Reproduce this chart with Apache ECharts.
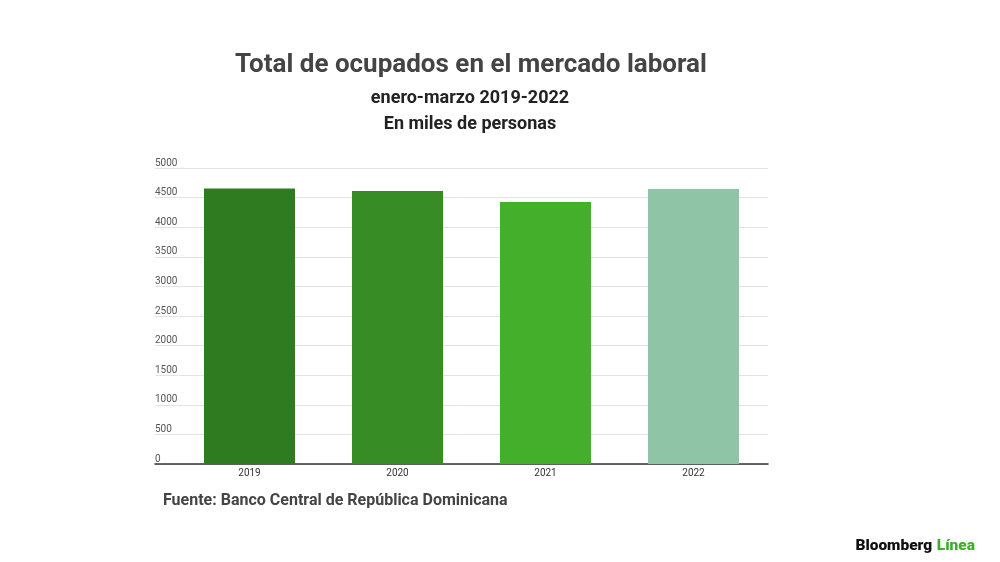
<!DOCTYPE html>
<html>
<head>
<meta charset="utf-8">
<title>Total de ocupados en el mercado laboral</title>
<script src="https://cdn.jsdelivr.net/npm/echarts@6/dist/echarts.min.js"></script>
<style>
    html, body { margin: 0; padding: 0; background: #ffffff; }
    #chart { width: 1000px; height: 562px; }
</style>
</head>
<body>
<div id="chart"></div>
<script>
// datos (miles de personas, enero-marzo)
var years = ['2019', '2020', '2021', '2022'];
var ocupados = [4655, 4611, 4426, 4645];
var barColors = ['#2f7b20', '#388c25', '#43af2b', '#8fc4a7'];
var yTicks = [0, 500, 1000, 1500, 2000, 2500, 3000, 3500, 4000, 4500, 5000];

var myChart = echarts.init(document.getElementById('chart'));

var option = {
    backgroundColor: '#ffffff',
    animation: false,
    textStyle: { fontFamily: 'Roboto' },
    title: [{
        text: 'Total de ocupados en el mercado laboral',
        left: 466,
        top: 47,
        textAlign: 'center',
        textStyle: { fontSize: 26, fontWeight: 'bold', color: '#444444', fontFamily: 'Roboto' }
    }, {
        text: 'enero-marzo 2019-2022',
        left: 465,
        top: 84,
        textAlign: 'center',
        textStyle: { fontSize: 18, fontWeight: 'bold', color: '#222222', fontFamily: 'Roboto' }
    }, {
        text: 'En miles de personas',
        left: 465,
        top: 110,
        textAlign: 'center',
        textStyle: { fontSize: 18, fontWeight: 'bold', color: '#222222', fontFamily: 'Roboto' }
    }, {
        text: 'Fuente: Banco Central de República Dominicana',
        left: 158,
        top: 488,
        textStyle: { fontSize: 16, fontWeight: 'bold', color: '#444444', fontFamily: 'Roboto' }
    }, {
        text: '{b|Bloomberg} {l|Línea}',
        right: 20,
        top: 532,
        textStyle: {
            rich: {
                b: { fontSize: 15.5, fontWeight: 900, color: '#111111', fontFamily: 'Roboto' },
                l: { fontSize: 15.5, fontWeight: 900, color: '#3fae2a', fontFamily: 'Roboto' }
            }
        }
    }],
    grid: [
        // rejilla y etiquetas del eje
        { left: 155, right: 232, top: 168, bottom: 98 },
        // barras
        { left: 175.5, right: 232.5, top: 168, bottom: 98 }
    ],
    xAxis: [{
        type: 'category',
        gridIndex: 0,
        data: years,
        axisLine: { show: true, lineStyle: { color: '#333333', width: 1.5 } },
        axisTick: { show: false },
        axisLabel: { show: false }
    }, {
        type: 'category',
        gridIndex: 1,
        data: years,
        axisLine: { show: false },
        axisTick: { show: false },
        axisLabel: { color: '#333333', fontSize: 10, margin: 4 }
    }],
    yAxis: [{
        type: 'value',
        gridIndex: 0,
        min: yTicks[0],
        max: yTicks[yTicks.length - 1],
        interval: 500,
        axisLine: { show: false },
        axisTick: { show: false },
        axisLabel: {
            inside: true,
            margin: 0,
            verticalAlign: 'bottom',
            padding: [0, 0, 0, 0],
            color: '#555555',
            fontSize: 10,
            formatter: function(v) { return String(v); }
        },
        splitLine: { lineStyle: { color: '#e3e3e3', width: 1 } }
    }, {
        type: 'value',
        gridIndex: 1,
        min: yTicks[0],
        max: yTicks[yTicks.length - 1],
        interval: 500,
        axisLine: { show: false },
        axisTick: { show: false },
        axisLabel: { show: false },
        splitLine: { show: false }
    }],
    series: [{
        type: 'bar',
        xAxisIndex: 1,
        yAxisIndex: 1,
        barWidth: 91,
        data: ocupados.map(function(v, i) {
            return { value: v, itemStyle: { color: barColors[i] } };
        })
    }]
};

myChart.setOption(option);
</script>
</body>
</html>
